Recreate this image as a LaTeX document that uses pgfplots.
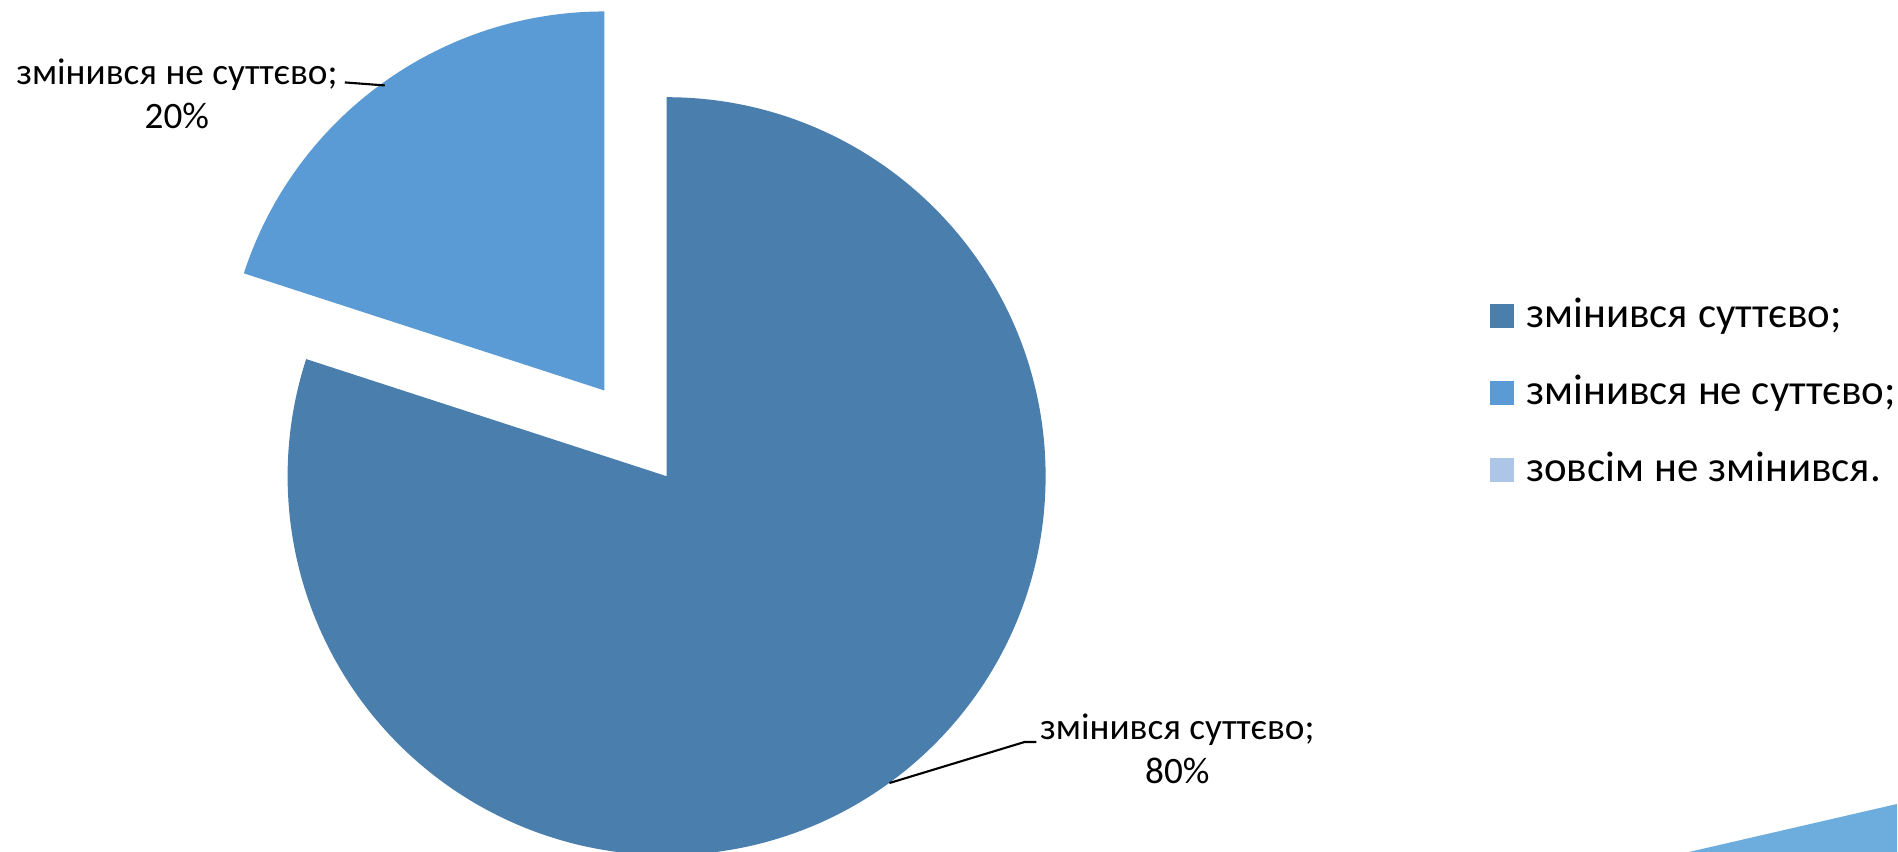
\documentclass[border=0pt]{standalone}
\usepackage{pgfplots}
\pgfplotsset{compat=1.18}
\usepackage{pgfplotstable}
\usepackage{fontspec}
\setmainfont{Carlito}
\definecolor{sliceA}{HTML}{4A7EAD}
\definecolor{sliceB}{HTML}{5B9BD5}
\definecolor{sliceC}{HTML}{ADC5E6}
\definecolor{swoosh}{HTML}{6CADDE}
\pgfplotstableread{
idx value
1 80
2 20
3 0
}\piedata
\begin{document}
\begin{tikzpicture}
\pgfplotstablegetelem{0}{value}\of\piedata \pgfmathsetmacro\va{\pgfplotsretval}
\pgfplotstablegetelem{1}{value}\of\piedata \pgfmathsetmacro\vb{\pgfplotsretval}
\pgfmathsetmacro\aEnd{90-3.6*\va}
\pgfmathsetmacro\bEnd{\aEnd-3.6*\vb}
\pgfmathsetmacro\bMid{(\aEnd+\bEnd)/2}
\begin{axis}[
  x=0.01cm, y=0.01cm,
  xmin=0, xmax=1898, ymin=0, ymax=852,
  hide axis, scale only axis,
  anchor=south west, at={(0,0)},
  legend cell align=left,
  legend style={at={(axis cs:1490,459)}, anchor=west, draw=none, fill=none,
    inner sep=0pt, row sep=0.39cm,
    font=\fontsize{12.2}{13}\selectfont,
    nodes={inner sep=0pt, text height=0.3cm, text depth=0.08cm}},
]
\fill[swoosh] (axis cs:1690,0) -- (axis cs:1898,48) -- (axis cs:1898,0) -- cycle;
\fill[sliceA] (axis cs:667,376) -- ++(90:3.79cm) arc[start angle=90, end angle=\aEnd, radius=3.79cm] -- cycle;
\fill[sliceB] (axis cs:667,376) ++(\bMid:1.06cm) -- ++(\aEnd:3.79cm) arc[start angle=\aEnd, end angle=\bEnd, radius=3.79cm] -- cycle;
\draw[black, line width=0.6pt] (axis cs:890,69) -- (axis cs:1025,110) -- (axis cs:1037,110);
\draw[black, line width=0.6pt] (axis cs:345,770) -- (axis cs:385,767);
\node[align=center, font=\fontsize{10.6}{12.5}\selectfont] at (axis cs:1178,103) {змінився суттєво;\\80\%};
\node[align=center, font=\fontsize{10.6}{12.5}\selectfont] at (axis cs:177,759) {змінився не суттєво;\\20\%};
\addlegendimage{legend image code/.code={\fill[sliceA] (0cm,-0.115cm) rectangle (0.23cm,0.115cm); \path (0.35cm,0cm);}}
\addlegendentry{змінився суттєво;}
\addlegendimage{legend image code/.code={\fill[sliceB] (0cm,-0.115cm) rectangle (0.23cm,0.115cm); \path (0.35cm,0cm);}}
\addlegendentry{змінився не суттєво;}
\addlegendimage{legend image code/.code={\fill[sliceC] (0cm,-0.115cm) rectangle (0.23cm,0.115cm); \path (0.35cm,0cm);}}
\addlegendentry{зовсім не змінився.}
\end{axis}
\pgfresetboundingbox
\path (0,0) rectangle (18.98cm,8.52cm);
\end{tikzpicture}
\end{document}
